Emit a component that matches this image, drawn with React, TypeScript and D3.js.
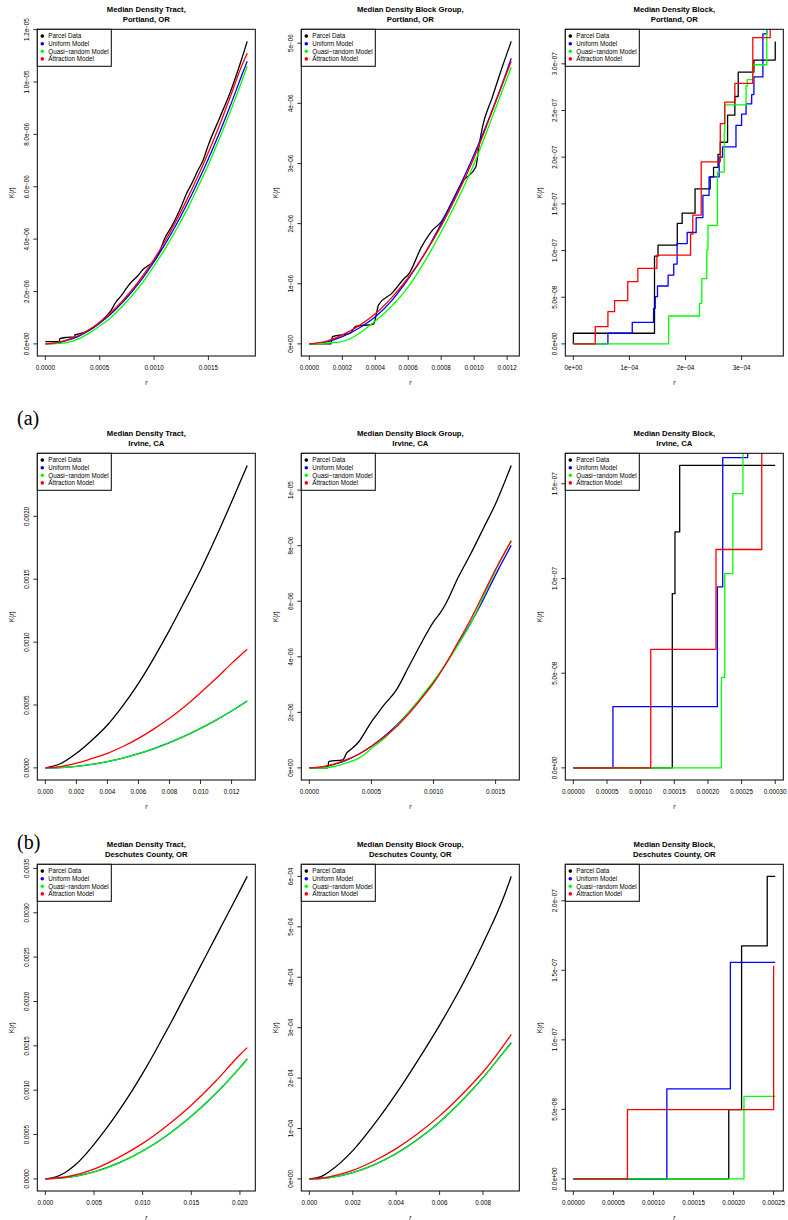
import React from 'react';
import * as d3 from 'd3';

// legend / colours shared by every panel
const LEGEND_LABELS = ['Parcel Data', 'Uniform Model', 'Quasi\u2212random Model', 'Attraction Model'];
const SERIES_COLORS = ['#000000', '#0000ff', '#00ff00', '#ff0000'];

// --- Portland tract (r x1e-4, K x1e-6)
const ptR = [0, 1, 2, 3, 4, 5, 6, 7, 8, 9, 10, 11, 12, 13, 14, 15, 16, 17, 18, 18.57];
const ptUniform = [0, 0.03, 0.13, 0.28, 0.5, 0.79, 1.13, 1.54, 2.01, 2.54, 3.14, 3.8, 4.52, 5.31, 6.16, 7.07, 8.04, 9.08, 10.18, 10.79];
const ptQuasi = [0, 0.01, 0.05, 0.18, 0.4, 0.68, 1.0, 1.4, 1.86, 2.38, 2.98, 3.62, 4.33, 5.1, 5.95, 6.85, 7.82, 8.85, 9.95, 10.6];
const ptAttract = [0, 0.05, 0.15, 0.31, 0.54, 0.83, 1.18, 1.6, 2.08, 2.63, 3.24, 3.92, 4.67, 5.49, 6.37, 7.32, 8.33, 9.42, 10.55, 11.1];
const ptParcelR = [0, 1.3, 1.32, 2, 2.7, 2.72, 3, 4, 5, 6, 6.5, 7, 7.5, 8, 8.5, 9, 9.5, 10, 10.5, 11, 11.5, 12, 12.5, 13, 13.5, 14, 14.5, 15, 16, 17, 18, 18.57];
const ptParcel = [0.09, 0.09, 0.2, 0.25, 0.27, 0.35, 0.37, 0.52, 0.82, 1.25, 1.6, 1.85, 2.15, 2.4, 2.6, 2.85, 3.0, 3.15, 3.5, 4.05, 4.4, 4.8, 5.25, 5.75, 6.15, 6.6, 7.0, 7.6, 8.6, 9.6, 10.8, 11.55];
const ptXTicks = [0, 5, 10, 15];
const ptXLabels = ['0.0000', '0.0005', '0.0010', '0.0015'];
const ptYTicks = [0, 2, 4, 6, 8, 10, 12];
const ptYLabels = ['0.0e+00', '2.0e\u221206', '4.0e\u221206', '6.0e\u221206', '8.0e\u221206', '1.0e\u221205', '1.2e\u221205'];

// --- Portland block group (r x1e-4, K x1e-6)
const pgR = [0, 1, 2, 3, 4, 5, 6, 7, 8, 9, 10, 11, 12, 12.25];
const pgUniform = [0, 0.03, 0.12, 0.26, 0.45, 0.72, 1.08, 1.5, 2.0, 2.55, 3.15, 3.82, 4.55, 4.75];
const pgAttract = [0, 0.04, 0.15, 0.3, 0.5, 0.77, 1.1, 1.5, 1.96, 2.5, 3.1, 3.8, 4.52, 4.7];
const pgQuasiR = [0, 1.8, 4, 6, 8, 9, 10, 11, 12, 12.25];
const pgQuasi = [0, 0.03, 0.38, 0.95, 1.86, 2.4, 3.0, 3.7, 4.42, 4.6];
const pgParcelR = [0, 1.3, 1.4, 2.5, 2.8, 3.9, 4.2, 5, 5.8, 6, 6.8, 7.5, 8, 8.6, 9.3, 10.1, 10.3, 10.5, 11.1, 11.7, 12.25];
const pgParcel = [0, 0, 0.12, 0.18, 0.29, 0.33, 0.65, 0.84, 1.1, 1.15, 1.61, 1.9, 2.03, 2.33, 2.7, 2.94, 3.3, 3.6, 4.1, 4.6, 5.03];
const pgXTicks = [0, 2, 4, 6, 8, 10, 12];
const pgXLabels = ['0.0000', '0.0002', '0.0004', '0.0006', '0.0008', '0.0010', '0.0012'];
const pgYTicks = [0, 1, 2, 3, 4, 5];
const pgYLabels = ['0e+00', '1e\u221206', '2e\u221206', '3e\u221206', '4e\u221206', '5e\u221206'];

// --- Portland block, step functions (r x1e-4, K x1e-8)
const pbParcelR = [0, 0, 1.447, 1.51, 1.853, 1.94, 2.17, 2.44, 2.5, 2.58, 2.62, 2.75, 2.88, 2.94, 3.22, 3.6];
const pbParcel = [0, 1.14, 9.4, 10.58, 12.9, 14.0, 16.6, 17.9, 18.9, 20.3, 21.6, 24.5, 26.5, 29.1, 30.4, 32.4];
const pbUniformR = [0, 0.616, 1.05, 1.43, 1.46, 1.5, 1.69, 1.79, 1.85, 2.03, 2.19, 2.31, 2.42, 2.6, 2.66, 2.9, 3.0, 3.08, 3.18, 3.22, 3.38, 3.45];
const pbUniform = [0, 1.14, 2.31, 3.8, 5.06, 6.2, 7.37, 8.55, 10.75, 11.93, 13.53, 15.9, 17.9, 20.0, 21.1, 23.4, 24.6, 25.7, 26.7, 28.6, 33.2, 36];
const pbQuasiR = [0, 1.7, 2.25, 2.29, 2.38, 2.4, 2.57, 2.69, 2.7, 3.08, 3.1, 3.2, 3.45];
const pbQuasi = [0, 2.99, 4.34, 7.0, 10.1, 12.7, 18.4, 22.6, 25.6, 27.6, 28.3, 29.9, 36];
const pbAttractR = [0, 0.39, 0.616, 0.735, 0.97, 1.15, 1.49, 2.09, 2.13, 2.28, 2.62, 2.7, 2.88, 3.2, 3.51];
const pbAttract = [0, 1.85, 3.45, 4.63, 6.66, 8.08, 9.5, 11.75, 13.8, 19.5, 23.6, 25.9, 27.9, 32.8, 36];
const pbXTicks = [0, 1, 2, 3];
const pbXLabels = ['0e+00', '1e\u221204', '2e\u221204', '3e\u221204'];
const pbYTicks = [0, 5, 10, 15, 20, 25, 30];
const pbYLabels = ['0.0e+00', '5.0e\u221208', '1.0e\u221207', '1.5e\u221207', '2.0e\u221207', '2.5e\u221207', '3.0e\u221207'];

// --- Irvine tract (r x1e-3, K x1e-3)
const itR = [0, 1, 2, 3, 4, 5, 6, 7, 8, 9, 10, 11, 12, 13.01];
const itParcel = [0, 0.035, 0.116, 0.22, 0.341, 0.495, 0.672, 0.875, 1.095, 1.33, 1.571, 1.835, 2.114, 2.405];
const itUniform = [0, 0.003, 0.0126, 0.028, 0.0503, 0.0785, 0.113, 0.154, 0.201, 0.254, 0.314, 0.38, 0.452, 0.532];
const itQuasi = [0, 0.003, 0.0125, 0.028, 0.05, 0.078, 0.113, 0.154, 0.2, 0.254, 0.314, 0.38, 0.452, 0.53];
const itAttract = [0, 0.01, 0.037, 0.075, 0.116, 0.17, 0.235, 0.31, 0.394, 0.49, 0.598, 0.71, 0.831, 0.944];
const itXTicks = [0, 2, 4, 6, 8, 10, 12];
const itXLabels = ['0.000', '0.002', '0.004', '0.006', '0.008', '0.010', '0.012'];
const itYTicks = [0, 0.5, 1, 1.5, 2];
const itYLabels = ['0.0000', '0.0005', '0.0010', '0.0015', '0.0020'];

// --- Irvine block group (r x1e-4, K x1e-6)
const igR = [0, 1, 2, 3, 4, 5, 6, 7, 8, 9, 10, 11, 12, 13, 14, 15, 16.26];
const igUniform = [0, 0.03, 0.13, 0.28, 0.5, 0.78, 1.12, 1.53, 2.0, 2.52, 3.1, 3.75, 4.47, 5.22, 6.05, 6.95, 8.01];
const igQuasi = [0, 0, 0.05, 0.18, 0.35, 0.7, 1.05, 1.5, 2.0, 2.55, 3.12, 3.75, 4.45, 5.2, 6.15, 7.1, 8.19];
const igAttract = [0, 0.04, 0.14, 0.3, 0.5, 0.78, 1.1, 1.48, 1.95, 2.48, 3.05, 3.75, 4.55, 5.35, 6.25, 7.15, 8.17];
const igParcelR = [0, 1.5, 1.55, 2.7, 3, 3.3, 4, 4.5, 5, 5.5, 6, 7, 8, 9, 10, 10.5, 11, 12, 13, 14, 15, 16.26];
const igParcel = [0, 0, 0.23, 0.29, 0.53, 0.65, 0.95, 1.3, 1.66, 1.96, 2.26, 2.8, 3.64, 4.48, 5.26, 5.55, 5.92, 6.87, 7.71, 8.61, 9.51, 10.89];
const igXTicks = [0, 5, 10, 15];
const igXLabels = ['0.0000', '0.0005', '0.0010', '0.0015'];
const igYTicks = [0, 2, 4, 6, 8, 10];
const igYLabels = ['0e+00', '2e\u221206', '4e\u221206', '6e\u221206', '8e\u221206', '1e\u221205'];

// --- Irvine block, step functions (r x1e-5, K x1e-8)
const ibParcelR = [0, 14.7, 15.1, 15.8, 30];
const ibParcel = [0, 9.2, 12.46, 15.97, 15.97];
const ibUniformR = [0, 5.88, 21.4, 22.2, 25.9];
const ibUniform = [0, 3.23, 9.56, 16.38, 18];
const ibQuasiR = [0, 22.0, 22.5, 23.7, 25.2];
const ibQuasi = [0, 4.78, 10.26, 14.48, 18];
const ibAttractR = [0, 11.5, 21.2, 28.0];
const ibAttract = [0, 6.26, 11.53, 18];
const ibXTicks = [0, 5, 10, 15, 20, 25, 30];
const ibXLabels = ['0.00000', '0.00005', '0.00010', '0.00015', '0.00020', '0.00025', '0.00030'];
const ibYTicks = [0, 5, 10, 15];
const ibYLabels = ['0.0e+00', '5.0e\u221208', '1.0e\u221207', '1.5e\u221207'];

// --- Deschutes tract (r x1e-3, K x1e-3)
const dtR = [0, 1, 2, 3, 4, 5, 6, 7, 8, 9, 10, 11, 12, 13, 14, 15, 16, 17, 18, 19, 20, 20.75];
const dtParcel = [0, 0.02, 0.07, 0.15, 0.26, 0.39, 0.53, 0.68, 0.84, 1.01, 1.19, 1.38, 1.58, 1.78, 1.99, 2.2, 2.41, 2.62, 2.83, 3.04, 3.25, 3.41];
const dtModelR = [0, 2.5, 5, 7.5, 10, 12.5, 15, 17.5, 20, 20.75];
const dtUniform = [0, 0.02, 0.079, 0.177, 0.314, 0.49, 0.706, 0.96, 1.255, 1.352];
const dtQuasi = [0, 0.019, 0.078, 0.176, 0.313, 0.49, 0.705, 0.96, 1.254, 1.35];
const dtAttract = [0, 0.03, 0.11, 0.24, 0.4, 0.6, 0.83, 1.1, 1.4, 1.48];
const dtXTicks = [0, 5, 10, 15, 20];
const dtXLabels = ['0.000', '0.005', '0.010', '0.015', '0.020'];
const dtYTicks = [0, 0.5, 1, 1.5, 2, 2.5, 3, 3.5];
const dtYLabels = ['0.0000', '0.0005', '0.0010', '0.0015', '0.0020', '0.0025', '0.0030', '0.0035'];

// --- Deschutes block group (r x1e-3, K x1e-4)
const dgR = [0, 0.5, 1, 2, 3, 4, 5, 6, 7, 8, 9, 9.3];
const dgParcel = [0, 0.04, 0.17, 0.56, 1.09, 1.69, 2.35, 3.05, 3.81, 4.67, 5.64, 6.0];
const dgUniform = [0, 0.008, 0.031, 0.126, 0.283, 0.503, 0.785, 1.13, 1.54, 2.01, 2.54, 2.7];
const dgQuasi = [0, 0.007, 0.03, 0.125, 0.282, 0.5, 0.783, 1.128, 1.535, 2.005, 2.535, 2.686];
const dgAttract = [0, 0.013, 0.05, 0.17, 0.36, 0.6, 0.9, 1.25, 1.66, 2.12, 2.68, 2.865];
const dgXTicks = [0, 2, 4, 6, 8];
const dgXLabels = ['0.000', '0.002', '0.004', '0.006', '0.008'];
const dgYTicks = [0, 1, 2, 3, 4, 5, 6];
const dgYLabels = ['0e+00', '1e\u221204', '2e\u221204', '3e\u221204', '4e\u221204', '5e\u221204', '6e\u221204'];

// --- Deschutes block, step functions (r x1e-5, K x1e-8)
const dbParcelR = [0, 19.4, 21.0, 24.2, 25.2];
const dbParcel = [0, 4.98, 16.75, 21.75, 21.75];
const dbUniformR = [0, 11.67, 19.6, 25.2];
const dbUniform = [0, 6.48, 15.57, 15.57];
const dbQuasiR = [0, 21.3, 25.2];
const dbQuasi = [0, 5.93, 5.93];
const dbAttractR = [0, 6.75, 25.0];
const dbAttract = [0, 4.98, 15.33];
const dbXTicks = [0, 5, 10, 15, 20, 25];
const dbXLabels = ['0.00000', '0.00005', '0.00010', '0.00015', '0.00020', '0.00025'];
const dbYTicks = [0, 5, 10, 15, 20];
const dbYLabels = ['0.0e+00', '5.0e\u221208', '1.0e\u221207', '1.5e\u221207', '2.0e\u221207'];

const W = 788;
const H = 1220;
const COL_LEFT = [37.3, 301.3, 565.3];
const ROW_TOP = [29.3, 453.3, 864.3];
const BOX_W = 218;
const BOX_H = 326.7;
const SANS = "'Liberation Sans', Arial, Helvetica, sans-serif";

const panels = [
  { row: 0, col: 0, title: ['Median Density Tract,', 'Portland, OR'], step: false,
    series: [[ptParcelR, ptParcel], [ptR, ptUniform], [ptR, ptQuasi], [ptR, ptAttract]],
    xTicks: ptXTicks, xLabels: ptXLabels, yTicks: ptYTicks, yLabels: ptYLabels },
  { row: 0, col: 1, title: ['Median Density Block Group,', 'Portland, OR'], step: false,
    series: [[pgParcelR, pgParcel], [pgR, pgUniform], [pgQuasiR, pgQuasi], [pgR, pgAttract]],
    xTicks: pgXTicks, xLabels: pgXLabels, yTicks: pgYTicks, yLabels: pgYLabels },
  { row: 0, col: 2, title: ['Median Density Block,', 'Portland, OR'], step: true,
    series: [[pbParcelR, pbParcel], [pbUniformR, pbUniform], [pbQuasiR, pbQuasi], [pbAttractR, pbAttract]],
    xTicks: pbXTicks, xLabels: pbXLabels, yTicks: pbYTicks, yLabels: pbYLabels },
  { row: 1, col: 0, title: ['Median Density Tract,', 'Irvine, CA'], step: false,
    series: [[itR, itParcel], [itR, itUniform], [itR, itQuasi], [itR, itAttract]],
    xTicks: itXTicks, xLabels: itXLabels, yTicks: itYTicks, yLabels: itYLabels },
  { row: 1, col: 1, title: ['Median Density Block Group,', 'Irvine, CA'], step: false,
    series: [[igParcelR, igParcel], [igR, igUniform], [igR, igQuasi], [igR, igAttract]],
    xTicks: igXTicks, xLabels: igXLabels, yTicks: igYTicks, yLabels: igYLabels },
  { row: 1, col: 2, title: ['Median Density Block,', 'Irvine, CA'], step: true,
    series: [[ibParcelR, ibParcel], [ibUniformR, ibUniform], [ibQuasiR, ibQuasi], [ibAttractR, ibAttract]],
    xTicks: ibXTicks, xLabels: ibXLabels, yTicks: ibYTicks, yLabels: ibYLabels },
  { row: 2, col: 0, title: ['Median Density Tract,', 'Deschutes County, OR'], step: false,
    series: [[dtR, dtParcel], [dtModelR, dtUniform], [dtModelR, dtQuasi], [dtModelR, dtAttract]],
    xTicks: dtXTicks, xLabels: dtXLabels, yTicks: dtYTicks, yLabels: dtYLabels },
  { row: 2, col: 1, title: ['Median Density Block Group,', 'Deschutes County, OR'], step: false,
    series: [[dgR, dgParcel], [dgR, dgUniform], [dgR, dgQuasi], [dgR, dgAttract]],
    xTicks: dgXTicks, xLabels: dgXLabels, yTicks: dgYTicks, yLabels: dgYLabels },
  { row: 2, col: 2, title: ['Median Density Block,', 'Deschutes County, OR'], step: true,
    series: [[dbParcelR, dbParcel], [dbUniformR, dbUniform], [dbQuasiR, dbQuasi], [dbAttractR, dbAttract]],
    xTicks: dbXTicks, xLabels: dbXLabels, yTicks: dbYTicks, yLabels: dbYLabels },
];

function Panel({ p, id }: { p: any; id: number }) {
  const left = COL_LEFT[p.col];
  const top = ROW_TOP[p.row];
  const right = left + BOX_W;
  const bottom = top + BOX_H;
  // limits come from the parcel data, R-style 4% padding
  const xMax = d3.max(p.series[0][0] as number[]) as number;
  const yMax = d3.max(p.series[0][1] as number[]) as number;
  const x = d3.scaleLinear().domain([-0.04 * xMax, 1.04 * xMax]).range([left, right]);
  const y = d3.scaleLinear().domain([-0.04 * yMax, 1.04 * yMax]).range([bottom, top]);
  const cx = (left + right) / 2;
  const cy = (top + bottom) / 2;

  return (
    <g>
      <defs>
        <clipPath id={`clip${id}`}>
          <rect x={left} y={top} width={BOX_W} height={BOX_H} />
        </clipPath>
      </defs>
      <text x={cx} y={top - 17} textAnchor="middle" fontFamily={SANS} fontWeight="bold" fontSize={7.7}>{p.title[0]}</text>
      <text x={cx} y={top - 7.8} textAnchor="middle" fontFamily={SANS} fontWeight="bold" fontSize={7.7}>{p.title[1]}</text>

      <g clipPath={`url(#clip${id})`}>
        {p.series.map((s: number[][], j: number) => {
          const pts = d3.zip(s[0], s[1]) as [number, number][];
          const curve = p.step ? d3.curveStepAfter : d3.curveMonotoneX;
          const d = d3.line<[number, number]>().x(v => x(v[0])).y(v => y(v[1])).curve(curve)(pts);
          return <path key={j} d={d || ''} fill="none" stroke={SERIES_COLORS[j]} strokeWidth={1.3} strokeLinejoin="round" />;
        })}
      </g>

      <rect x={left} y={top} width={BOX_W} height={BOX_H} fill="none" stroke="#000" strokeWidth={1} />

      {p.xTicks.map((t: number, k: number) => (
        <g key={'x' + k}>
          <line x1={x(t)} x2={x(t)} y1={bottom} y2={bottom + 4} stroke="#000" strokeWidth={0.8} />
          <text x={x(t)} y={bottom + 14.3} textAnchor="middle" fontFamily={SANS} fontSize={6.3}>{p.xLabels[k]}</text>
        </g>
      ))}
      {p.yTicks.map((t: number, k: number) => (
        <g key={'y' + k}>
          <line x1={left - 4} x2={left} y1={y(t)} y2={y(t)} stroke="#000" strokeWidth={0.8} />
          <text transform={`translate(${left - 8.3},${y(t)}) rotate(-90)`} textAnchor="middle" fontFamily={SANS} fontSize={6.3}>{p.yLabels[k]}</text>
        </g>
      ))}

      <text x={cx} y={bottom + 29} textAnchor="middle" fontFamily={SANS} fontSize={6.3} fontStyle="italic">r</text>
      <text transform={`translate(${left - 23.8},${cy}) rotate(-90)`} textAnchor="middle" fontFamily={SANS} fontSize={6.3}>
        K(<tspan fontStyle="italic">r</tspan>)
      </text>

      <rect x={left} y={top} width={74} height={37} fill="#fff" stroke="#000" strokeWidth={1} />
      {LEGEND_LABELS.map((lab, k) => (
        <g key={'l' + k}>
          <circle cx={left + 5} cy={top + 6.8 + k * 7.6} r={1.8} fill={SERIES_COLORS[k]} />
          <text x={left + 11} y={top + 9 + k * 7.6} fontFamily={SANS} fontSize={6.3}>{lab}</text>
        </g>
      ))}
    </g>
  );
}

export default function App() {
  return (
    <svg width={W} height={H} style={{ position: 'absolute', left: 0, top: 0, background: '#fff' }}>
      <rect x={0} y={0} width={W} height={H} fill="#fff" />
      {panels.map((p, i) => <Panel key={i} p={p} id={i} />)}
      <text x={17} y={425} fontFamily="'Liberation Serif', 'Times New Roman', serif" fontSize={20}>(a)</text>
      <text x={17} y={849} fontFamily="'Liberation Serif', 'Times New Roman', serif" fontSize={20}>(b)</text>
    </svg>
  );
}
